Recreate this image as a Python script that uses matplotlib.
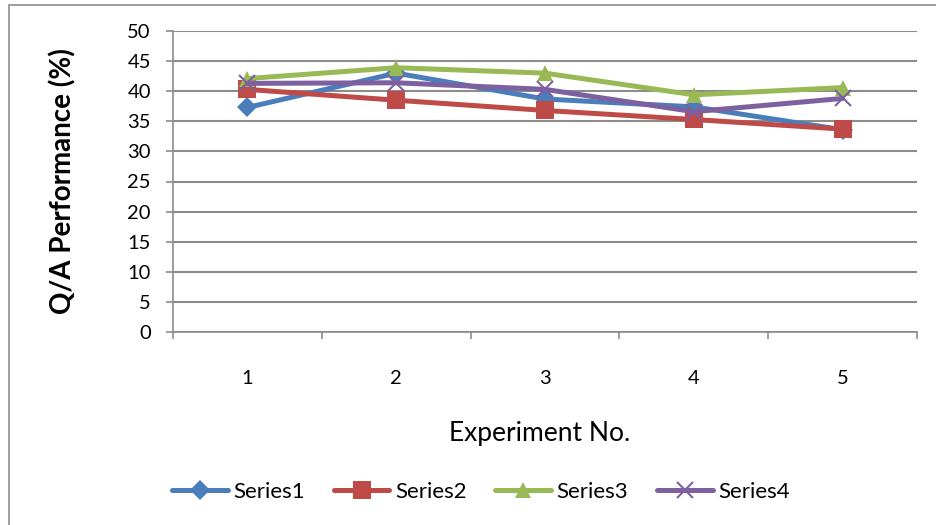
import numpy as np
import matplotlib.pyplot as plt
from matplotlib.patches import Rectangle

plt.rcParams['font.family'] = ['Lato', 'DejaVu Sans']

# Q/A performance for each experiment
experiments = [1, 2, 3, 4, 5]
series1 = [37.3, 43.0, 38.7, 37.4, 33.6]
series2 = [40.3, 38.5, 36.8, 35.3, 33.7]
series3 = [42.1, 43.9, 43.0, 39.4, 40.6]
series4 = [41.3, 41.4, 40.3, 36.6, 38.8]
y_ticks = [0, 5, 10, 15, 20, 25, 30, 35, 40, 45, 50]

fig = plt.figure(figsize=(9.36, 5.25), dpi=100)
ax = fig.add_axes([173 / 936, 1 - 332 / 525, (917 - 173) / 936, (332 - 31) / 525])

# chart border
fig.patches.append(Rectangle((9 / 936, -0.1), 1.1, 1 - 5 / 525 + 0.1, transform=fig.transFigure,
                             fill=False, edgecolor='#8c8c8c', linewidth=1.2))

styles = [
    (series1, '#4a7ebb', 'D', 10, 'Series1'),
    (series2, '#be4b48', 's', 12.5, 'Series2'),
    (series3, '#98b954', '^', 12, 'Series3'),
    (series4, '#7d60a0', 'x', 11, 'Series4'),
]
for vals, col, mk, ms, lab in styles:
    ax.plot(experiments, vals, color=col, linewidth=3.6, marker=mk, markersize=ms,
            markeredgewidth=1.5 if mk == 'x' else 0, markeredgecolor=col, label=lab,
            solid_capstyle='round', solid_joinstyle='round')

ax.set_xlim(0.5, 5.5)
ax.set_ylim(0, 50)
ax.set_yticks(y_ticks)
ax.set_xticks(experiments)
ax.set_xticks([0.5, 1.5, 2.5, 3.5, 4.5, 5.5], minor=True)
ax.tick_params(axis='x', which='major', length=0, pad=27, labelsize=14.5)
ax.tick_params(axis='x', which='minor', length=5, color='#8c8c8c', width=1.2)
ax.tick_params(axis='y', length=5, color='#8c8c8c', width=1.2, labelsize=14.5, pad=11)

ax.grid(axis='y', color='#8c8c8c', linewidth=1.5)
ax.set_axisbelow(True)
for side in ['top', 'right']:
    ax.spines[side].set_visible(False)
for side in ['left', 'bottom']:
    ax.spines[side].set_color('#8c8c8c')
    ax.spines[side].set_linewidth(1.2)

ax.set_ylabel('Q/A Performance (%)', fontsize=20, fontweight='bold', va='center')
ax.yaxis.set_label_coords(-0.148, 0.5)
ax.set_xlabel('Experiment No.', fontsize=19, va='center')
ax.xaxis.set_label_coords(0.493, -0.336)

ax.legend(loc='center', bbox_to_anchor=(0.414, -0.532), ncol=4, frameon=False,
          fontsize=16, handlelength=2.5, columnspacing=1.3, handletextpad=0.25)

plt.savefig('out.png', dpi=100)
